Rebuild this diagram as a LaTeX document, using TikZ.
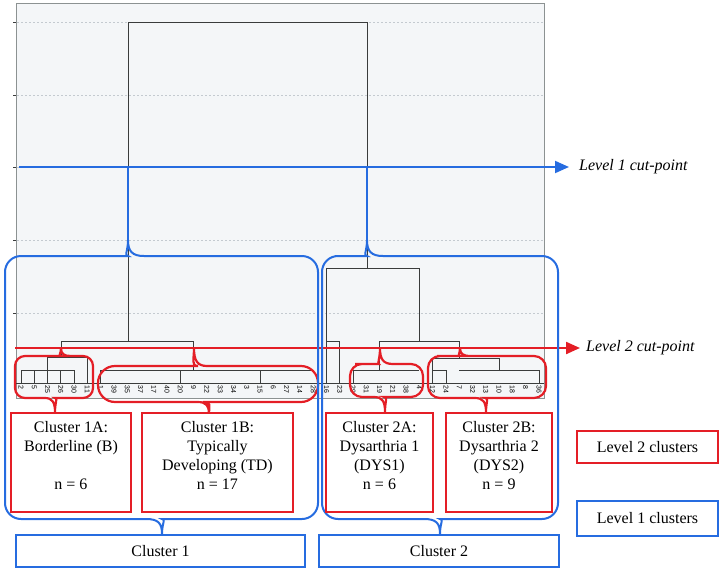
\documentclass[tikz,border=0pt]{standalone}
\usepackage{fontspec}
\setmainfont{Liberation Serif}
\newfontfamily\leaffont{Liberation Sans}
\usetikzlibrary{arrows.meta,positioning}

\definecolor{cutblue}{RGB}{38,108,224}
\definecolor{cutred}{RGB}{228,30,38}
\definecolor{plotbg}{RGB}{244,246,248}
\definecolor{plotframe}{RGB}{140,146,146}
\definecolor{gridgrey}{RGB}{196,202,208}
\definecolor{treeline}{RGB}{58,60,60}

% x position of the i-th leaf of the dendrogram
\newcommand{\leafx}[1]{21+(#1-1)*13.28}

\tikzset{
  tree/.style={draw=treeline, line width=0.8pt},
  levelone/.style={draw=cutblue, line width=2pt},
  leveltwo/.style={draw=cutred, line width=2.2pt},
  boxfont/.style={font=\fontsize{16}{19}\selectfont},
  onebox/.style={levelone, boxfont, rectangle, inner sep=0pt},
  twobox/.style={leveltwo, boxfont, rectangle, inner sep=0pt},
  boxtext/.style={boxfont, align=center, inner sep=0pt},
  cutlabel/.style={anchor=west, inner sep=0pt, font=\fontsize{16}{19}\selectfont\itshape},
  leaf/.style={rotate=-90, anchor=west, inner sep=0pt, font=\leaffont\fontsize{7}{8}\selectfont},
  cutarrow/.style={-{Triangle[length=14pt,width=12pt]}},
}

\begin{document}
\begin{tikzpicture}[x=1pt, y=-1pt]
\useasboundingbox (0,0) rectangle (721,571);

% Plot area, dotted grid, axis ticks
\draw[plotframe, fill=plotbg, line width=1pt] (16,3) rectangle (544,398);
\foreach \gy in {22,95,167,240,313} {
  \draw[gridgrey, dash pattern=on 1.5pt off 2.5pt] (17,\gy) -- (543,\gy);
  \draw[treeline, line width=1pt] (13,\gy) -- (16,\gy);
}
\draw[tree] (16,383) -- (544,383);

% Leaves and their bars
\foreach \i in {1,...,5,7,...,23,26,...,31,33,...,40}
  \draw[tree] ({\leafx{\i}},370) -- ({\leafx{\i}},383);
\foreach \a/\b in {1/5,7/23,26/31,32/33,34/40}
  \draw[tree] ({\leafx{\a}},370) -- ({\leafx{\b}},370);

% Cluster 1 branches
\draw[tree] ({\leafx{3}},370) -- ({\leafx{3}},357) -- ({\leafx{6}},357) -- ({\leafx{6}},383);
\draw[tree] (61,357) -- (61,341) -- ({\leafx{14}},341) -- ({\leafx{14}},370);
\draw[tree] (128,341) -- (128,22) -- (367,22) -- (367,268);

% Cluster 2 branches
\draw[tree] ({\leafx{24}},383) -- ({\leafx{24}},268) -- ({\leafx{31}},268) -- ({\leafx{31}},341);
\draw[tree] ({\leafx{24}},341) -- ({\leafx{25}},341) -- ({\leafx{25}},383);
\draw[tree] ({\leafx{28}},370) -- ({\leafx{28}},341) -- ({\leafx{34}},341) -- ({\leafx{34}},358);
\draw[tree] ({\leafx{32}},383) -- ({\leafx{32}},358) -- ({\leafx{37}},358) -- ({\leafx{37}},370);

% Leaf labels
\foreach \lab [count=\i] in {2,5,25,26,30,11,1,39,35,37,17,40,20,9,22,33,34,3,15,6,27,14,28,16,23,29,31,19,21,38,4,12,24,7,32,13,10,18,8,36}
  \node[leaf] (leaf\i) at ({\leafx{\i}},385.5) {\lab};

% Level 2 cut-point
\coordinate (cutB) at (15,348);
\coordinate (cutB-end) at (580,348);
\node[cutlabel] (cutB-lab) at (586,348) {Level 2 cut-point};
\draw[leveltwo, cutarrow] (cutB) -- (cutB-end);

% Level 2 cluster braces
\draw[leveltwo] (61,348) .. controls (61,354) and (64,356) .. (71,356)
  [rounded corners=10pt] -- (93,356) -- (93,398) -- (65,398) [sharp corners]
  .. controls (58,398) and (55,402) .. (55,412)
  .. controls (55,402) and (52,398) .. (45,398)
  [rounded corners=10pt] -- (15,398) -- (15,356) -- (51,356) [sharp corners]
  .. controls (58,356) and (61,354) .. (61,348);
\draw[leveltwo] (194,348) .. controls (194,360) and (197,366) .. (207,366)
  [rounded corners=17pt] -- (318,366) -- (318,402) -- (220,402) [sharp corners]
  .. controls (212,402) and (209,406) .. (209,413)
  .. controls (209,406) and (206,402) .. (198,402)
  [rounded corners=17pt] -- (98,402) -- (98,366) -- (181,366) [sharp corners]
  .. controls (191,366) and (194,360) .. (194,348);
\draw[leveltwo] (380,348) .. controls (380,359) and (383,364) .. (393,364)
  [rounded corners=12pt] -- (423,364) -- (423,397) -- (396,397) [sharp corners]
  .. controls (388,397) and (385,401) .. (385,412)
  .. controls (385,401) and (382,397) .. (374,397)
  [rounded corners=12pt] -- (350,397) -- (350,364) -- (367,364) [sharp corners]
  .. controls (377,364) and (380,359) .. (380,348);
\draw[leveltwo] (460,348) .. controls (460,354) and (463,356) .. (471,356)
  [rounded corners=12pt] -- (546,356) -- (546,398) -- (497,398) [sharp corners]
  .. controls (489,398) and (486,402) .. (486,412)
  .. controls (486,402) and (483,398) .. (475,398)
  [rounded corners=12pt] -- (428,398) -- (428,356) -- (449,356) [sharp corners]
  .. controls (457,356) and (460,354) .. (460,348);

% Level 1 cut-point
\coordinate (cutA) at (19,167);
\coordinate (cutA-end) at (569,167);
\node[cutlabel] (cutA-lab) at (579,167) {Level 1 cut-point};
\draw[levelone, cutarrow] (cutA) -- (cutA-end);

% Level 1 cluster braces
\draw[levelone] (128,167) -- (128,240);
\draw[levelone] (128,240) .. controls (128,251) and (132,256) .. (144,256)
  [rounded corners=16pt] -- (318,256) -- (318,519) -- (178,519) [sharp corners]
  .. controls (166,519) and (162,523) .. (162,534)
  .. controls (162,523) and (158,519) .. (146,519)
  [rounded corners=16pt] -- (5,519) -- (5,256) -- (112,256) [sharp corners]
  .. controls (124,256) and (128,251) .. (128,240);
\draw[levelone] (367,167) -- (367,240);
\draw[levelone] (367,240) .. controls (367,251) and (371,256) .. (383,256)
  [rounded corners=16pt] -- (558,256) -- (558,519) -- (456,519) [sharp corners]
  .. controls (444,519) and (440,523) .. (440,534)
  .. controls (440,523) and (436,519) .. (424,519)
  [rounded corners=16pt] -- (322,519) -- (322,256) -- (351,256) [sharp corners]
  .. controls (363,256) and (367,251) .. (367,240);

% Level 2 cluster boxes
\node[twobox, minimum width=120pt, minimum height=99pt] (c1a) at (71,462.5) {};
\node[boxtext, below=9.5pt of c1a.north] (c1a-t) {Cluster 1A:\\Borderline (B)\\[19pt]n = 6};
\node[twobox, minimum width=151pt, minimum height=99pt] (c1b) at (217.5,462.5) {};
\node[boxtext, below=9.5pt of c1b.north] (c1b-t) {Cluster 1B:\\Typically\\Developing (TD)\\n = 17};
\node[twobox, minimum width=107pt, minimum height=99pt] (c2a) at (379.5,462.5) {};
\node[boxtext, below=9.5pt of c2a.north] (c2a-t) {Cluster 2A:\\Dysarthria 1\\(DYS1)\\n = 6};
\node[twobox, minimum width=106pt, minimum height=99pt] (c2b) at (499,462.5) {};
\node[boxtext, below=9.5pt of c2b.north] (c2b-t) {Cluster 2B:\\Dysarthria 2\\(DYS2)\\n = 9};

% Level 1 cluster boxes
\node[onebox, minimum width=289pt, minimum height=32pt] (cl1) at (160.5,551) {Cluster 1};
\node[onebox, minimum width=240pt, minimum height=32pt] (cl2) at (439,551) {Cluster 2};

% Legend
\node[twobox, minimum width=141pt, minimum height=32pt] (key2) at (647.5,447) {Level 2 clusters};
\node[onebox, minimum width=141pt, minimum height=35pt] (key1) at (647.5,518.5) {Level 1 clusters};

\end{tikzpicture}
\end{document}
